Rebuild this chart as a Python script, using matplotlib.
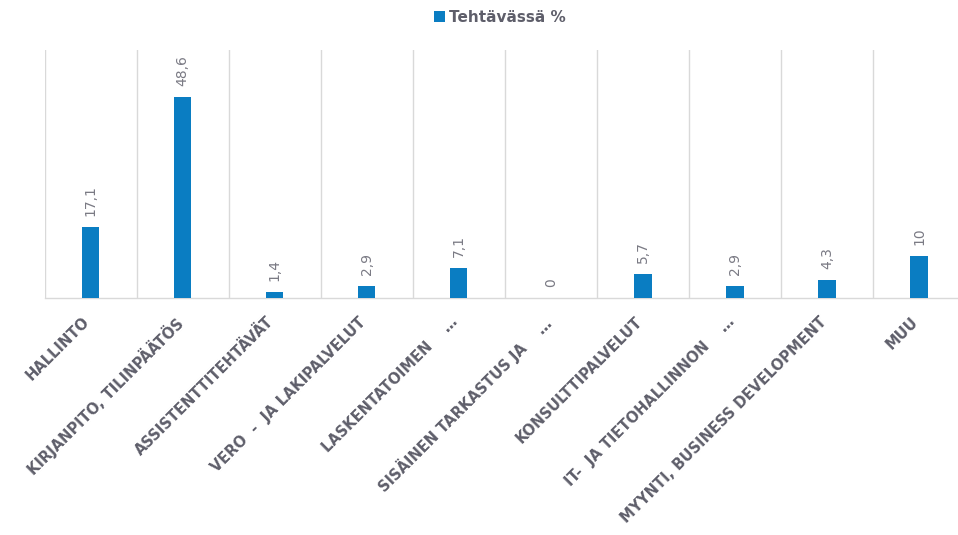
import matplotlib.pyplot as plt
import matplotlib.transforms as mtransforms
import numpy as np

# ------------------ data ------------------
categories = [
    "HALLINTO",
    "KIRJANPITO, TILINPÄÄTÖS",
    "ASSISTENTTITEHTÄVÄT",
    "VERO  -  JA LAKIPALVELUT",
    "LASKENTATOIMEN    …",
    "SISÄINEN TARKASTUS JA    …",
    "KONSULTTIPALVELUT",
    "IT-  JA TIETOHALLINNON    …",
    "MYYNTI, BUSINESS DEVELOPMENT",
    "MUU",
]
values = [17.1, 48.6, 1.4, 2.9, 7.1, 0, 5.7, 2.9, 4.3, 10]
value_labels = ["17,1", "48,6", "1,4", "2,9", "7,1", "0", "5,7", "2,9", "4,3", "10"]
series_name = "Tehtävässä %"
# ------------------------------------------

BAR_COLOR = "#0A7DC2"
TEXT_COLOR = "#5E5E6A"
VALUE_COLOR = "#7A7A84"
GRID_COLOR = "#D9D9D9"

plt.rcParams["font.family"] = ["DejaVu Sans"]

fig = plt.figure(figsize=(9.58, 5.35), dpi=100)
# plot area runs slightly past the right edge of the picture
ax = fig.add_axes([44.5 / 958, 1 - 297.7 / 535, (965 - 44.5) / 958, (297.7 - 50) / 535])

x = np.arange(len(categories))
ax.bar(x, values, width=0.19, color=BAR_COLOR, label=series_name, zorder=3)

ax.set_xlim(-0.5, len(categories) - 0.5)
ax.set_ylim(0, 60)

# vertical separators between categories
for b in np.arange(-0.5, len(categories), 1.0):
    ax.axvline(b, color=GRID_COLOR, lw=1, zorder=1)

for s in ["top", "right", "left"]:
    ax.spines[s].set_visible(False)
ax.spines["bottom"].set_color(GRID_COLOR)
ax.spines["bottom"].set_linewidth(1)
ax.set_yticks([])

ax.set_xticks(x)
ax.set_xticklabels(categories, rotation=45, ha="right", rotation_mode="anchor",
                   fontsize=10.5, fontweight="bold", color=TEXT_COLOR)
ax.tick_params(axis="x", length=0, pad=12)
# nudge the rotated labels a little to the left, like the original
shift = mtransforms.ScaledTranslation(-6 / 72, 0, fig.dpi_scale_trans)
for t in ax.get_xticklabels():
    t.set_transform(t.get_transform() + shift)

for xi, v, lab in zip(x, values, value_labels):
    ax.annotate(lab, (xi, v), xytext=(0, 8), textcoords="offset points",
                rotation=90, ha="center", va="bottom", fontsize=10, color=VALUE_COLOR)

fig.legend(loc="center", bbox_to_anchor=(0.522, 0.968), frameon=False, ncol=1,
           prop={"size": 11, "weight": "bold"}, labelcolor=TEXT_COLOR,
           handlelength=0.7, handleheight=0.7, handletextpad=0.3)

fig.savefig("out.png", dpi=100)
